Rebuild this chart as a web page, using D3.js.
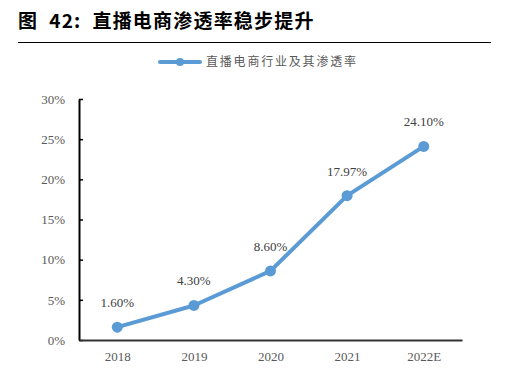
<!DOCTYPE html>
<html>
<head>
<meta charset="utf-8">
<script src="https://cdn.jsdelivr.net/npm/d3@7"></script>
<style>
  body { margin: 0; background: #fff; }
</style>
</head>
<body>
<div id="chart"></div>
<script>
var years = ["2018", "2019", "2020", "2021", "2022E"];
var rates = [1.60, 4.30, 8.60, 17.97, 24.10];
var rateLabels = ["1.60%", "4.30%", "8.60%", "17.97%", "24.10%"];
var yTicks = [0, 5, 10, 15, 20, 25, 30];
var seriesName = "直播电商行业及其渗透率";
var titleText = "图  42:  直播电商渗透率稳步提升";

var w = 517, h = 373;
var serif = "'Times New Roman', 'Liberation Serif', 'Noto Sans CJK SC', serif";
var blue = "#5B9BD5";

var svg = d3.select("#chart").append("svg")
            .attr("width", w)
            .attr("height", h);

// title + rule
svg.append("text")
   .attr("x", 18)
   .attr("y", 28)
   .attr("font-family", "'Noto Sans CJK SC', sans-serif")
   .attr("font-weight", "bold")
   .attr("font-size", 19)
   .attr("letter-spacing", 1.2)
   .attr("fill", "#000")
   .attr("xml:space", "preserve")
   .text(titleText);

svg.append("line")
   .attr("x1", 18).attr("x2", 491)
   .attr("y1", 42.5).attr("y2", 42.5)
   .attr("stroke", "#000")
   .attr("stroke-width", 1);

// legend
var lg = svg.append("g").attr("transform", "translate(160,62)");
lg.append("line")
  .attr("x1", 0).attr("x2", 40)
  .attr("stroke", blue).attr("stroke-width", 4).attr("stroke-linecap", "round");
lg.append("circle").attr("cx", 20).attr("r", 4).attr("fill", blue);
lg.append("text")
  .attr("x", 46).attr("y", 4)
  .attr("font-family", "'Noto Sans CJK SC', sans-serif")
  .attr("font-size", 12)
  .attr("letter-spacing", 1.8)
  .attr("fill", "#595959")
  .text(seriesName);

var x = d3.scalePoint()
          .domain(years)
          .range([79, 462])
          .padding(0.5);

var y = d3.scaleLinear()
          .domain([0, 30])
          .range([340, 99]);

// y axis
var yAxis = d3.axisLeft(y)
              .tickValues(yTicks)
              .tickSizeInner(-4)
              .tickSizeOuter(0)
              .tickPadding(14)
              .tickFormat(function (d) { return d + "%"; });

var gy = svg.append("g").attr("transform", "translate(79,0)").call(yAxis);
gy.select(".domain").attr("stroke", "#000").attr("stroke-width", 2);
gy.selectAll(".tick line").attr("stroke", "#000").attr("stroke-width", 1.5);
gy.selectAll(".tick text")
  .attr("font-family", serif)
  .attr("font-size", 13)
  .attr("fill", "#595959");

// x axis
var xAxis = d3.axisBottom(x).tickSize(0).tickPadding(12);
var gx = svg.append("g").attr("transform", "translate(0,340)").call(xAxis);
gx.select(".domain").attr("stroke", "#333").attr("stroke-width", 2);
gx.selectAll(".tick text")
  .attr("font-family", serif)
  .attr("font-size", 13)
  .attr("fill", "#595959");

// line
var line = d3.line()
             .x(function (d, i) { return x(years[i]); })
             .y(function (d) { return y(d); });

svg.append("path")
   .datum(rates)
   .attr("d", line)
   .attr("fill", "none")
   .attr("stroke", blue)
   .attr("stroke-width", 4)
   .attr("stroke-linejoin", "round");

svg.selectAll("circle.pt")
   .data(rates)
   .enter()
   .append("circle")
   .attr("class", "pt")
   .attr("cx", function (d, i) { return x(years[i]); })
   .attr("cy", function (d) { return y(d); })
   .attr("r", 5.5)
   .attr("fill", blue);

svg.selectAll("text.lbl")
   .data(rates)
   .enter()
   .append("text")
   .attr("class", "lbl")
   .attr("x", function (d, i) { return x(years[i]); })
   .attr("y", function (d) { return y(d) - 20; })
   .attr("text-anchor", "middle")
   .attr("font-family", serif)
   .attr("font-size", 13)
   .attr("fill", "#404040")
   .text(function (d, i) { return rateLabels[i]; });
</script>
</body>
</html>
